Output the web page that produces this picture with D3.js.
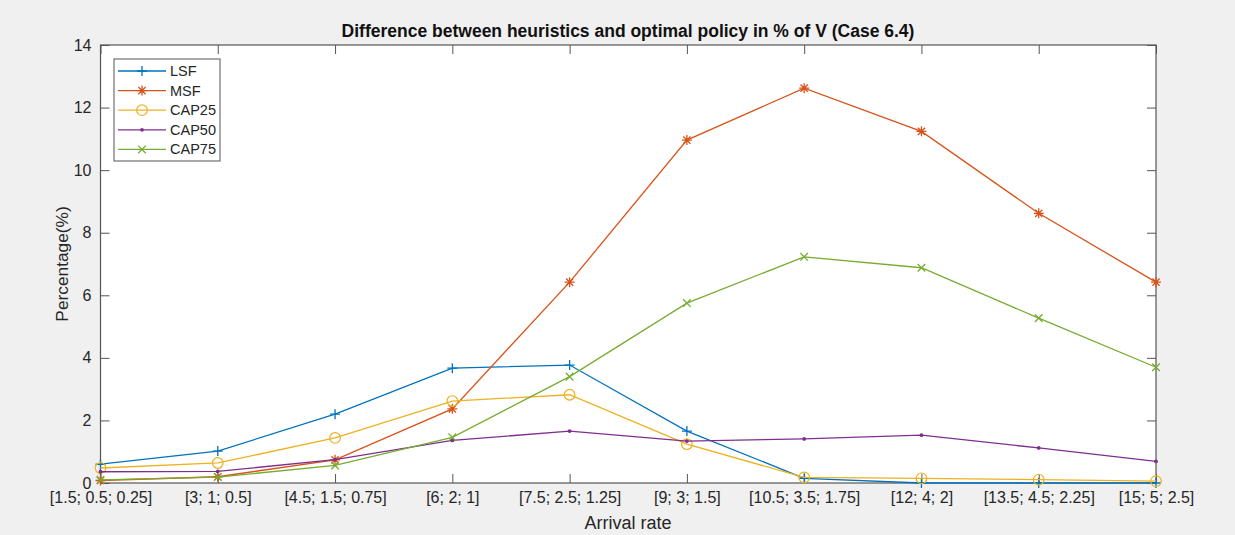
<!DOCTYPE html>
<html>
<head>
<meta charset="utf-8">
<script src="https://cdn.jsdelivr.net/npm/d3@7/dist/d3.min.js"></script>
<style>
  html, body { margin: 0; padding: 0; background: #f0f0f0; }
  svg { display: block; font-family: "Liberation Sans", Arial, Helvetica, sans-serif; }
</style>
</head>
<body>
<svg id="chart" width="1235" height="535"></svg>
<script>
// Arrival-rate settings along the x axis
const categories = [
  "[1.5; 0.5; 0.25]", "[3; 1; 0.5]", "[4.5; 1.5; 0.75]", "[6; 2; 1]",
  "[7.5; 2.5; 1.25]", "[9; 3; 1.5]", "[10.5; 3.5; 1.75]", "[12; 4; 2]",
  "[13.5; 4.5; 2.25]", "[15; 5; 2.5]"
];

// Gap to the optimal policy, in % of V, for each heuristic
const lsf   = [0.60, 1.02, 2.20, 3.67, 3.77, 1.66, 0.15, 0.00, 0.00, 0.00];
const msf   = [0.08, 0.20, 0.74, 2.37, 6.42, 10.96, 12.62, 11.24, 8.62, 6.42];
const cap25 = [0.48, 0.64, 1.44, 2.62, 2.82, 1.24, 0.18, 0.15, 0.11, 0.06];
const cap50 = [0.36, 0.37, 0.75, 1.36, 1.66, 1.34, 1.41, 1.53, 1.12, 0.69];
const cap75 = [0.10, 0.19, 0.56, 1.46, 3.40, 5.75, 7.23, 6.88, 5.27, 3.70];

const yTicks = [0, 2, 4, 6, 8, 10, 12, 14];

const series = [
  { name: "LSF",   values: lsf,   color: "#0072BD", marker: "plus" },
  { name: "MSF",   values: msf,   color: "#D95319", marker: "asterisk" },
  { name: "CAP25", values: cap25, color: "#EDB120", marker: "circle" },
  { name: "CAP50", values: cap50, color: "#7E2F8E", marker: "dot" },
  { name: "CAP75", values: cap75, color: "#77AC30", marker: "cross" }
];

const svg = d3.select("#chart");
const plotL = 100.5, plotR = 1156, plotT = 45, plotB = 483;
const axisColor = "#555";
const textColor = "#262626";

const x = d3.scalePoint().domain(categories).range([plotL, plotR]);
const y = d3.scaleLinear().domain([0, 14]).range([plotB, plotT]);

// white plot area
svg.append("rect")
  .attr("x", plotL).attr("y", plotT)
  .attr("width", plotR - plotL).attr("height", plotB - plotT)
  .attr("fill", "#fff");

const tickLen = 9;
function styleAxis(g) {
  g.select(".domain").remove();
  g.selectAll(".tick line").attr("stroke", axisColor).attr("stroke-width", 1);
  g.selectAll(".tick text")
    .attr("fill", textColor)
    .style("font-size", "16px");
}

svg.append("g").attr("transform", `translate(0,${plotB})`)
  .call(d3.axisBottom(x).tickSize(-tickLen).tickPadding(9))
  .call(styleAxis);
svg.append("g").attr("transform", `translate(0,${plotT})`)
  .call(d3.axisTop(x).tickSize(-tickLen).tickFormat(""))
  .call(styleAxis);
svg.append("g").attr("transform", `translate(${plotL},0)`)
  .call(d3.axisLeft(y).tickValues(yTicks).tickSize(-tickLen).tickPadding(9))
  .call(styleAxis);
svg.append("g").attr("transform", `translate(${plotR},0)`)
  .call(d3.axisRight(y).tickValues(yTicks).tickSize(-tickLen).tickFormat(""))
  .call(styleAxis);

// axes box
svg.append("rect")
  .attr("x", plotL).attr("y", plotT)
  .attr("width", plotR - plotL).attr("height", plotB - plotT)
  .attr("fill", "none").attr("stroke", axisColor).attr("stroke-width", 1.2);

// marker shapes
function markerPath(type) {
  switch (type) {
    case "plus": return "M-5,0H5M0,-5V5";
    case "cross": return "M-3.8,-3.8L3.8,3.8M-3.8,3.8L3.8,-3.8";
    case "asterisk": return "M-5,0H5M0,-5V5M-3.6,-3.6L3.6,3.6M-3.6,3.6L3.6,-3.6";
    default: return null;
  }
}
function drawMarker(g, type, color) {
  if (type === "circle") {
    g.append("circle").attr("r", 5.3).attr("fill", "none")
      .attr("stroke", color).attr("stroke-width", 1.2);
  } else if (type === "dot") {
    g.append("circle").attr("r", 1.9).attr("fill", color);
  } else {
    g.append("path").attr("d", markerPath(type)).attr("fill", "none")
      .attr("stroke", color).attr("stroke-width", 1.3);
  }
}

const line = d3.line().x((d, i) => x(categories[i])).y(d => y(d));

series.forEach(s => {
  const g = svg.append("g");
  g.append("path").datum(s.values).attr("d", line)
    .attr("fill", "none").attr("stroke", s.color).attr("stroke-width", 1.3);
  s.values.forEach((v, i) => {
    const m = g.append("g").attr("transform", `translate(${x(categories[i])},${y(v)})`);
    drawMarker(m, s.marker, s.color);
  });
});

// title and axis labels
svg.append("text")
  .attr("x", 628).attr("y", 37)
  .attr("text-anchor", "middle")
  .attr("fill", "#111")
  .style("font-size", "17.5px").style("font-weight", "bold")
  .text("Difference between heuristics and optimal policy in % of V (Case 6.4)");

svg.append("text")
  .attr("x", 628).attr("y", 529)
  .attr("text-anchor", "middle")
  .attr("fill", textColor)
  .style("font-size", "18px")
  .text("Arrival rate");

svg.append("text")
  .attr("transform", `translate(68,${(plotT + plotB) / 2}) rotate(-90)`)
  .attr("text-anchor", "middle")
  .attr("fill", textColor)
  .style("font-size", "17.3px")
  .text("Percentage(%)");

// legend
const lg = svg.append("g");
const lx = 114, ly = 59, lw = 106, lh = 102;
lg.append("rect").attr("x", lx).attr("y", ly).attr("width", lw).attr("height", lh)
  .attr("fill", "#fff").attr("stroke", axisColor).attr("stroke-width", 1);
series.forEach((s, i) => {
  const cy = 71 + i * 19.6;
  lg.append("line").attr("x1", 118).attr("x2", 166).attr("y1", cy).attr("y2", cy)
    .attr("stroke", s.color).attr("stroke-width", 1.3);
  const m = lg.append("g").attr("transform", `translate(142,${cy})`);
  drawMarker(m, s.marker, s.color);
  lg.append("text").attr("x", 170).attr("y", cy + 5)
    .attr("fill", textColor).style("font-size", "14.5px").text(s.name);
});
</script>
</body>
</html>
